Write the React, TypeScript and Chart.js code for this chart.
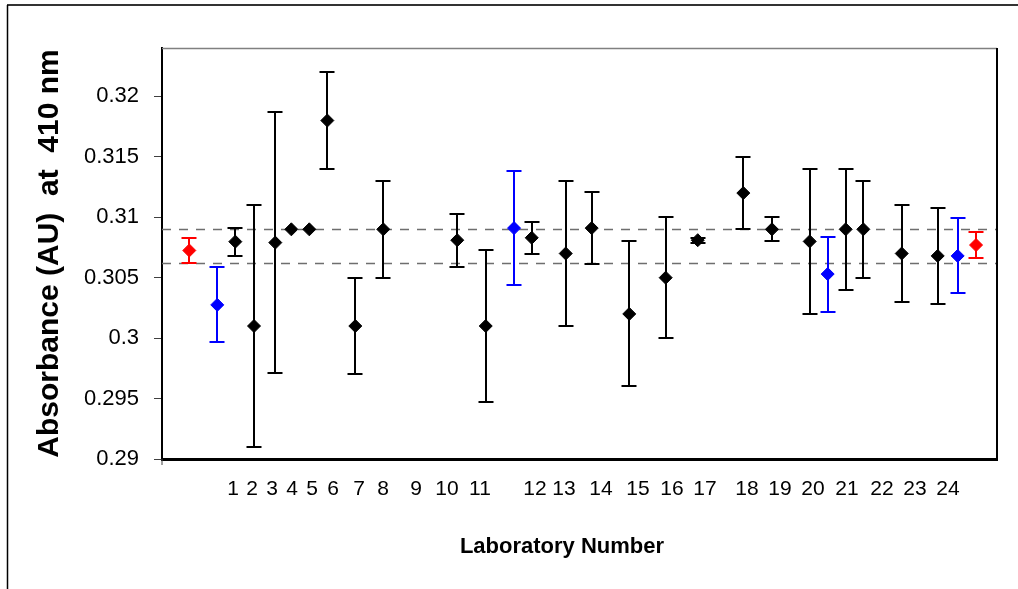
import React, { useEffect, useRef } from "react";
import { Chart, registerables } from "chart.js";

Chart.register(...registerables);

const FONT = "'Liberation Sans', Arial, sans-serif";

// x axis: category labels and where they sit along the horizontal position scale (0-100)
const labLabels = ["1", "2", "3", "4", "5", "6", "7", "8", "9", "10", "11", "12", "13", "14", "15", "16", "17", "18", "19", "20", "21", "22", "23", "24"];
const labLabelPos = [8.5, 10.78, 13.17, 15.57, 17.96, 20.48, 23.59, 26.47, 30.42, 34.13, 38.08, 44.67, 48.14, 52.57, 57.01, 61.08, 65.03, 70.06, 74.01, 77.96, 82.04, 86.23, 90.18, 94.13];

// laboratory results (lab 9 reported nothing)
const labPos = [8.78, 11.02, 13.57, 15.49, 17.64, 19.8, 23.15, 26.5, 35.36, 38.77, 44.28, 48.35, 51.46, 55.96, 60.32, 64.16, 69.62, 73.05, 77.57, 81.88, 83.99, 88.59, 92.9];
const labValues = [0.30798, 0.301, 0.3079, 0.309, 0.309, 0.318, 0.301, 0.309, 0.3081, 0.301, 0.3083, 0.307, 0.3091, 0.302, 0.305, 0.3081, 0.312, 0.309, 0.308, 0.309, 0.309, 0.307, 0.3068];
const labErrors = [0.00115, 0.01, 0.0108, 0, 0, 0.004, 0.004, 0.004, 0.0022, 0.0063, 0.0013, 0.006, 0.003, 0.006, 0.005, 0.0002, 0.003, 0.001, 0.006, 0.005, 0.004, 0.004, 0.004];

// blue reference measurements
const bluePos = [6.62, 42.16, 79.72, 95.29];
const blueValues = [0.30275, 0.3091, 0.3053, 0.3068];
const blueErrors = [0.0031, 0.0047, 0.0031, 0.0031];

// red reference measurements
const redPos = [3.27, 97.49];
const redValues = [0.30725, 0.3077];
const redErrors = [0.00105, 0.0011];

// dashed reference band
const refLines = [0.309, 0.3062];

// y ticks
const yTicks = [0.29, 0.295, 0.3, 0.305, 0.31, 0.315, 0.32];

const toPoints = (xs: number[], ys: number[]) => xs.map((x, i) => ({ x, y: ys[i] }));

const decorPlugin = {
  id: "decor",
  beforeDraw(chart: any) {
    const { ctx, width, height } = chart;
    ctx.save();
    ctx.fillStyle = "#fff";
    ctx.fillRect(0, 0, width, height);
    // outer frame (top and left)
    ctx.strokeStyle = "#333";
    ctx.lineWidth = 2;
    ctx.beginPath();
    ctx.moveTo(7, 5);
    ctx.lineTo(width, 5);
    ctx.stroke();
    ctx.strokeStyle = "#000";
    ctx.lineWidth = 1.5;
    ctx.beginPath();
    ctx.moveTo(7.5, 5);
    ctx.lineTo(7.5, height);
    ctx.stroke();
    ctx.restore();
  },
  beforeDatasetsDraw(chart: any) {
    const { ctx, chartArea, scales } = chart;
    const ys = scales.y;
    ctx.save();
    // dashed reference lines
    ctx.strokeStyle = "#6e6e6e";
    ctx.lineWidth = 1.5;
    ctx.setLineDash([9, 8]);
    refLines.forEach((v) => {
      const py = Math.round(ys.getPixelForValue(v)) + 0.5;
      ctx.beginPath();
      ctx.moveTo(chartArea.left, py);
      ctx.lineTo(chartArea.right, py);
      ctx.stroke();
    });
    ctx.setLineDash([]);
    // error bars
    chart.data.datasets.forEach((ds: any, i: number) => {
      const meta = chart.getDatasetMeta(i);
      ctx.strokeStyle = ds.borderColor;
      ctx.lineWidth = 2;
      meta.data.forEach((pt: any, j: number) => {
        const e = ds.errors[j];
        if (!e) return;
        const v = ds.data[j].y;
        const x = Math.round(pt.x);
        const yt = Math.round(ys.getPixelForValue(v + e));
        const yb = Math.round(ys.getPixelForValue(v - e));
        ctx.beginPath();
        ctx.moveTo(x, yt);
        ctx.lineTo(x, yb);
        ctx.moveTo(x - 7.5, yt);
        ctx.lineTo(x + 7.5, yt);
        ctx.moveTo(x - 7.5, yb);
        ctx.lineTo(x + 7.5, yb);
        ctx.stroke();
      });
    });
    ctx.restore();
  },
  afterDraw(chart: any) {
    const { ctx, chartArea } = chart;
    ctx.save();
    // plot box top (grey) and right (black)
    ctx.strokeStyle = "#808080";
    ctx.lineWidth = 1.5;
    ctx.beginPath();
    ctx.moveTo(chartArea.left, chartArea.top + 0.5);
    ctx.lineTo(chartArea.right, chartArea.top + 0.5);
    ctx.stroke();
    ctx.strokeStyle = "#000";
    ctx.lineWidth = 2;
    ctx.beginPath();
    ctx.moveTo(chartArea.right, chartArea.top);
    ctx.lineTo(chartArea.right, chartArea.bottom);
    ctx.stroke();
    // small extension of y axis below x axis
    ctx.lineWidth = 1;
    ctx.strokeStyle = "#404040";
    ctx.beginPath();
    ctx.moveTo(chartArea.left, chartArea.bottom);
    ctx.lineTo(chartArea.left, chartArea.bottom + 6);
    ctx.stroke();
    // x axis title
    ctx.fillStyle = "#000";
    ctx.font = `bold 22px ${FONT}`;
    ctx.textAlign = "center";
    ctx.textBaseline = "middle";
    ctx.fillText("Laboratory Number", 562, 547);
    ctx.restore();
  },
};

export default function App() {
  const ref = useRef<HTMLCanvasElement | null>(null);

  useEffect(() => {
    if (!ref.current) return;
    const mk = (color: string, xs: number[], ys: number[], errs: number[]) => ({
      data: toPoints(xs, ys),
      errors: errs,
      backgroundColor: color,
      borderColor: color,
      borderWidth: 1,
      pointStyle: "rectRot",
      pointRadius: 6.5,
      showLine: false,
    });
    const chart = new Chart(ref.current, {
      type: "scatter",
      data: {
        datasets: [
          mk("#ff0000", redPos, redValues, redErrors),
          mk("#0000ff", bluePos, blueValues, blueErrors),
          mk("#000000", labPos, labValues, labErrors),
        ] as any,
      },
      options: {
        animation: false,
        responsive: false,
        devicePixelRatio: 1,
        layout: { padding: { top: 48, right: 21, left: 0, bottom: 0 } },
        plugins: { legend: { display: false }, tooltip: { enabled: false } },
        scales: {
          x: {
            type: "linear",
            min: 0,
            max: 100,
            afterBuildTicks: (s: any) => {
              s.ticks = labLabelPos.map((v) => ({ value: v }));
            },
            afterFit: (s: any) => {
              s.height = 130;
            },
            grid: { display: false, drawTicks: false },
            border: { display: true, color: "#000", width: 3 },
            ticks: {
              autoSkip: false,
              maxRotation: 0,
              padding: 18,
              color: "#000",
              font: { family: FONT, size: 21 },
              callback: (_v: any, i: number) => labLabels[i],
            },
          },
          y: {
            type: "linear",
            min: 0.29,
            max: 0.324,
            afterBuildTicks: (s: any) => {
              s.ticks = yTicks.map((v) => ({ value: v }));
            },
            afterFit: (s: any) => {
              s.width = 162;
            },
            grid: { display: true, drawOnChartArea: false, drawTicks: true, tickLength: 8, color: "#404040", lineWidth: 1 },
            border: { display: true, color: "#000", width: 2 },
            ticks: {
              padding: 15,
              color: "#000",
              font: { family: FONT, size: 22 },
              callback: (v: any) => String(parseFloat(Number(v).toFixed(4))),
            },
            title: {
              display: true,
              text: "Absorbance (AU)  at  410 nm",
              color: "#000",
              font: { family: FONT, size: 30, weight: "bold" },
              padding: { top: 32, bottom: 0 },
            },
          },
        },
      } as any,
      plugins: [decorPlugin],
    });
    return () => chart.destroy();
  }, []);

  return (
    <div style={{ position: "fixed", left: 0, top: 0, width: 1018, height: 589, overflow: "hidden", background: "#fff" }}>
      <canvas ref={ref} width={1018} height={589} style={{ display: "block", width: 1018, height: 589 }} />
    </div>
  );
}
